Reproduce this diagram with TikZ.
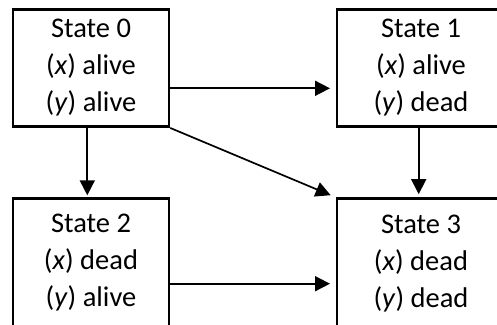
\documentclass[tikz,border=0pt]{standalone}
\usepackage{fontspec}
\setmainfont{Carlito}
\usetikzlibrary{arrows.meta}
\begin{document}
\begin{tikzpicture}[x=1pt,y=-1pt,
  statebox/.style={draw, line width=2.5pt, inner sep=0pt, align=center,
    font=\fontsize{28.5}{37}\selectfont},
  conn/.style={line width=1.7pt, -{Triangle[length=15pt,width=15pt]}}]
\useasboundingbox (0,0) rectangle (497,324);
\node[statebox, minimum width=156pt, minimum height=117.4pt] (s0) at (91,68)
  {State 0\\(\textit{x}) alive\\(\textit{y}) alive};
\node[statebox, minimum width=168pt, minimum height=117.4pt] (s1) at (421,68)
  {State 1\\(\textit{x}) alive\\(\textit{y}) dead};
\node[statebox, minimum width=156pt, minimum height=129.4pt] (s2) at (91,263)
  {State 2\\(\textit{x}) dead\\(\textit{y}) alive};
\node[statebox, minimum width=168pt, minimum height=129.4pt] (s3) at (421,263.3)
  {State 3\\(\textit{x}) dead\\(\textit{y}) dead};
\draw[conn, shorten >=5.75pt] ([yshift=-20.3pt]s0.east) -- ([yshift=-20.3pt]s1.west);
\draw[conn, shorten >=1.75pt] ([xshift=-3.7pt]s0.south) -- ([xshift=-3.7pt]s2.north);
\draw[conn, shorten >=5.5pt] (s0.south east) -- (s3.north west);
\draw[conn, shorten >=3.2pt] ([xshift=-2.3pt]s1.south) -- ([xshift=-2.3pt]s3.north);
\draw[conn, shorten >=5.75pt] ([yshift=-20.7pt]s2.east) -- ([yshift=-20.4pt]s3.west);
\end{tikzpicture}
\end{document}
